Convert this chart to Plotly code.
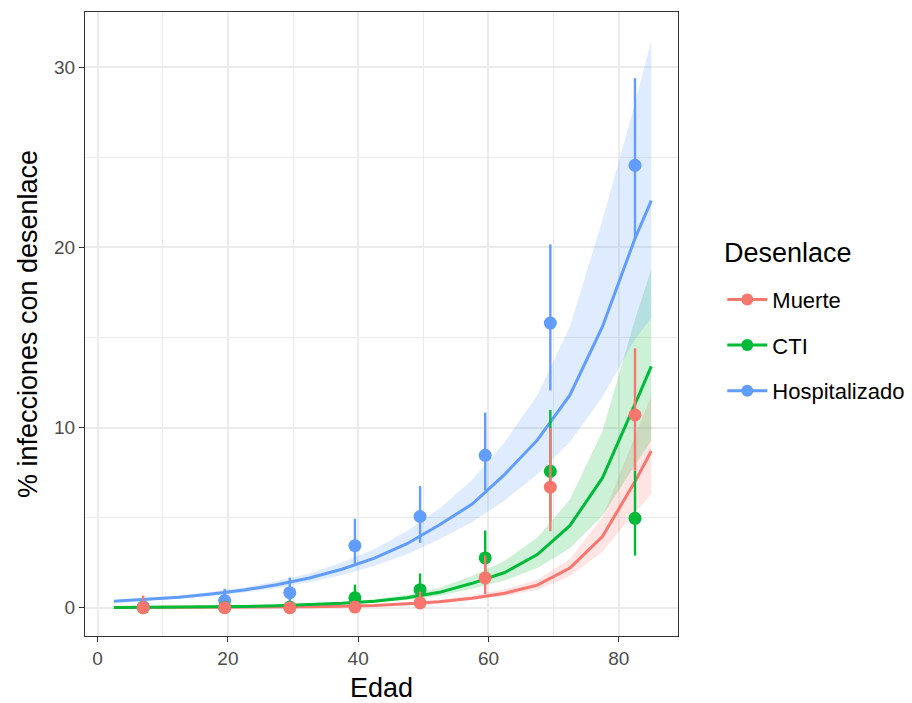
import plotly.graph_objects as go

# ---- data ----
grid_age = [2.5, 7.5, 12.5, 17.5, 22.5, 27.5, 32.5, 37.5, 42.5, 47.5,
            52.5, 57.5, 62.5, 67.5, 72.5, 77.5, 82.5, 85.0]

hosp_fit = [0.35, 0.45, 0.58, 0.76, 0.98, 1.27, 1.65, 2.13, 2.75, 3.55,
            4.6, 5.75, 7.4, 9.3, 11.8, 15.6, 20.5, 22.6]
hosp_hi = [0.41, 0.52, 0.67, 0.87, 1.13, 1.46, 1.9, 2.5, 3.25, 4.25,
           5.5, 7.1, 9.2, 11.8, 15.6, 21.5, 28.0, 31.5]
hosp_lo = [0.30, 0.39, 0.50, 0.65, 0.84, 1.09, 1.41, 1.81, 2.32, 2.97,
           3.8, 4.75, 5.95, 7.4, 9.2, 11.7, 14.9, 16.1]

cti_fit = [0.01, 0.015, 0.025, 0.04, 0.065, 0.10, 0.16, 0.24, 0.36, 0.55,
           0.85, 1.35, 1.95, 2.95, 4.55, 7.2, 11.3, 13.4]
cti_hi = [0.015, 0.02, 0.033, 0.052, 0.085, 0.13, 0.21, 0.31, 0.46, 0.71,
          1.1, 1.75, 2.6, 3.9, 6.0, 9.8, 16.0, 18.8]
cti_lo = [0.006, 0.01, 0.018, 0.03, 0.048, 0.075, 0.12, 0.18, 0.28, 0.43,
          0.66, 1.05, 1.5, 2.2, 3.3, 5.1, 7.9, 9.3]

muerte_fit = [0.003, 0.005, 0.008, 0.013, 0.02, 0.032, 0.05, 0.08, 0.12, 0.21,
              0.33, 0.52, 0.8, 1.25, 2.2, 3.95, 7.0, 8.7]
muerte_hi = [0.005, 0.008, 0.012, 0.019, 0.029, 0.045, 0.07, 0.11, 0.16, 0.28,
             0.43, 0.68, 1.02, 1.55, 2.7, 5.0, 9.6, 11.8]
muerte_lo = [0.002, 0.003, 0.005, 0.009, 0.014, 0.022, 0.035, 0.057, 0.09, 0.16,
             0.26, 0.42, 0.65, 1.0, 1.75, 3.1, 5.3, 6.3]

obs_age = [7, 19.5, 29.5, 39.5, 49.5, 59.5, 69.5, 82.5]

hosp_obs = [0.05, 0.39, 0.83, 3.44, 5.06, 8.46, 15.8, 24.56]
hosp_obs_lo = [0.0, 0.1, 0.35, 2.43, 3.6, 6.5, 12.06, 20.5]
hosp_obs_hi = [0.45, 1.05, 1.67, 4.94, 6.75, 10.83, 20.17, 29.4]

cti_obs = [0.0, 0.02, 0.03, 0.55, 1.0, 2.76, 7.57, 4.96]
cti_obs_lo = [0.0, 0.0, 0.0, 0.1, 0.4, 1.7, 4.8, 2.89]
cti_obs_hi = [0.1, 0.2, 0.25, 1.28, 1.9, 4.28, 10.98, 7.6]

muerte_obs = [0.0, 0.0, 0.0, 0.03, 0.26, 1.65, 6.69, 10.7]
muerte_obs_lo = [0.0, 0.0, 0.0, 0.0, 0.05, 0.76, 4.24, 7.6]
muerte_obs_hi = [0.67, 0.2, 0.25, 0.35, 0.9, 2.9, 9.98, 14.4]

series_names = ["Muerte", "CTI", "Hospitalizado"]
x_ticks = [0, 20, 40, 60, 80]
y_ticks = [0, 10, 20, 30]

# ---- styles ----
colors = {"Muerte": "#F8766D", "CTI": "#00BA38", "Hospitalizado": "#619CFF"}
fills = {"Muerte": "rgba(248,118,109,0.2)", "CTI": "rgba(0,186,56,0.2)",
         "Hospitalizado": "rgba(97,156,255,0.2)"}

fits = {"Muerte": (muerte_fit, muerte_lo, muerte_hi),
        "CTI": (cti_fit, cti_lo, cti_hi),
        "Hospitalizado": (hosp_fit, hosp_lo, hosp_hi)}
obs = {"Muerte": (muerte_obs, muerte_obs_lo, muerte_obs_hi),
       "CTI": (cti_obs, cti_obs_lo, cti_obs_hi),
       "Hospitalizado": (hosp_obs, hosp_obs_lo, hosp_obs_hi)}

FONT = "Liberation Sans, Arial, sans-serif"
fig = go.Figure()

# ribbons
for name in series_names:
    f, lo, hi = fits[name]
    fig.add_trace(go.Scatter(x=grid_age + grid_age[::-1], y=hi + lo[::-1],
                             fill="toself", fillcolor=fills[name],
                             line=dict(width=0), mode="lines",
                             hoverinfo="skip", showlegend=False))
# fitted lines
for name in series_names:
    f, lo, hi = fits[name]
    fig.add_trace(go.Scatter(x=grid_age, y=f, mode="lines",
                             line=dict(color=colors[name], width=3),
                             showlegend=False))
# point ranges
for name in ["Hospitalizado", "CTI", "Muerte"]:
    v, lo, hi = obs[name]
    fig.add_trace(go.Scatter(
        x=obs_age, y=v, mode="markers",
        marker=dict(color=colors[name], size=13),
        error_y=dict(type="data", symmetric=False,
                     array=[h - a for h, a in zip(hi, v)],
                     arrayminus=[a - l for a, l in zip(v, lo)],
                     color=colors[name], thickness=2.4, width=0),
        showlegend=False))
# legend entries
for i, name in enumerate(series_names):
    fig.add_trace(go.Scatter(x=[None], y=[None], mode="lines+markers", name=name,
                             legendgroup=name,
                             line=dict(color=colors[name], width=3),
                             marker=dict(color=colors[name], size=12)))

axis_common = dict(
    showgrid=True, gridcolor="#EBEBEB", gridwidth=2,
    showline=True, mirror=True, linecolor="#333333", linewidth=1.3,
    ticks="outside", ticklen=5, tickwidth=1.3, tickcolor="#333333",
    tickfont=dict(family=FONT, size=19, color="#4D4D4D"),
    zeroline=False,
    minor=dict(showgrid=True, gridcolor="#EBEBEB", gridwidth=1, ticks=""),
)

fig.update_layout(
    width=912, height=703,
    margin=dict(l=85, r=234, t=12, b=67, autoexpand=False),
    paper_bgcolor="white", plot_bgcolor="white",
    font=dict(family=FONT, color="black"),
    xaxis=dict(range=[-1.94, 89.1], tickvals=x_ticks,
               minor_dtick=10, minor_tick0=0,
               title=dict(text="Edad", font=dict(family=FONT, size=27), standoff=10),
               **axis_common),
    yaxis=dict(range=[-1.575, 33.075], tickvals=y_ticks,
               minor_dtick=5, minor_tick0=0,
               title=dict(text="% infecciones con desenlace", font=dict(family=FONT, size=27),
                          standoff=8),
               **axis_common),
    legend=dict(xref="container", yref="container", x=0.792, xanchor="left",
                y=0.509, yanchor="middle",
                font=dict(family=FONT, size=22), traceorder="grouped",
                tracegroupgap=14, itemwidth=40, bgcolor="rgba(0,0,0,0)"),
    showlegend=True,
    annotations=[dict(text="Desenlace", x=1.074, xref="paper", xanchor="left",
                      y=0.614, yref="paper", yanchor="middle", showarrow=False,
                      font=dict(family=FONT, size=27, color="black"))],
)

fig.write_html("out.html")
